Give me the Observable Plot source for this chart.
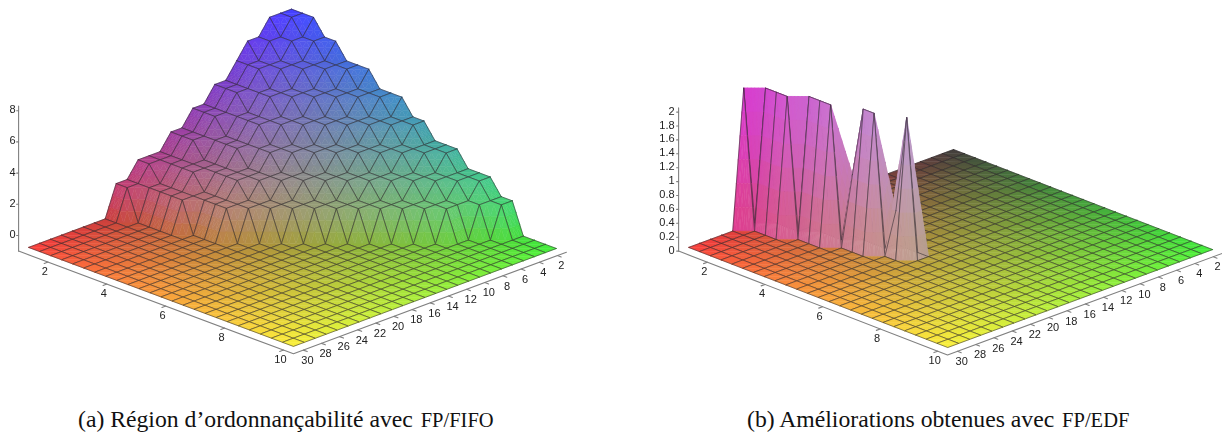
<!DOCTYPE html>
<html><head><meta charset="utf-8">
<script src="https://cdn.jsdelivr.net/npm/d3@7"></script>
<script src="https://cdn.jsdelivr.net/npm/@observablehq/plot@0.6"></script>
<style>
html,body{margin:0;padding:0;background:#fff;width:1222px;height:438px;overflow:hidden}
#row{display:flex;width:1222px;height:438px}
.panel{width:611px;position:relative}
.panel svg{display:block;filter:blur(.4px)}
.cap{position:absolute;top:408px;font:23.7px/1 "Liberation Serif",serif;color:#111;white-space:nowrap}
.cap small{font-size:20.5px;margin-left:2px}
</style></head><body>
<div id="row"></div>
<script>
// grid: 25 x 25 samples over x in [1,10], y in [1,30]
const gridSize = 25;
// Left surface: for each terrace level, the last grid row (y index) still at that level, per x index
const leftFloor = -1;
const reach1 = [16,16,15,15,15,15,14,14,14,13,12,11,10,9,8,7,6,5,4,2,1,-1,-1,-1,-1];
const reach2 = [14,14,13,13,13,12,12,12,11,10,9,8,7,6,5,4,3,2,1,-1,-1,-1,-1,-1,-1];
const reach3 = [11,11,11,10,10,10,9,9,8,7,6,5,4,3,2,1,-1,-1,-1,-1,-1,-1,-1,-1,-1];
const reach4 = [9,9,9,8,8,8,7,6,5,4,3,2,1,-1,-1,-1,-1,-1,-1,-1,-1,-1,-1,-1,-1];
const reach5 = [7,7,7,6,6,5,4,3,2,1,0,-1,-1,-1,-1,-1,-1,-1,-1,-1,-1,-1,-1,-1,-1];
const reach6 = [5,5,5,4,3,2,1,0,-1,-1,-1,-1,-1,-1,-1,-1,-1,-1,-1,-1,-1,-1,-1,-1,-1];
const reach7 = [4,3,2,1,0,-1,-1,-1,-1,-1,-1,-1,-1,-1,-1,-1,-1,-1,-1,-1,-1,-1,-1,-1,-1];
const reach8 = [2,1,0,-1,-1,-1,-1,-1,-1,-1,-1,-1,-1,-1,-1,-1,-1,-1,-1,-1,-1,-1,-1,-1,-1];
const reaches = [reach1,reach2,reach3,reach4,reach5,reach6,reach7,reach8];
// Right surface: the raised samples
const gainXIndex = [0,1,2,3,4,5,6,7,8,9,10,11];
const gainYIndex = [19,18,18,18,17,17,17,16,16,16,15,15];
const gainValue  = [2,2,2,2,2,2,2,1,2,2,0.6,2];
// tick labels
const xTicks = [2,4,6,8,10];
const yTicks = [2,4,6,8,10,12,14,16,18,20,22,24,26,28,30];
const zTicksLeft = [0,2,4,6,8];
const zTicksRight = [0,0.2,0.4,0.6,0.8,1,1.2,1.4,1.6,1.8,2];

const leftZ = (i,j)=>{let z=leftFloor;reaches.forEach((r,k)=>{if(r[i]>=j)z=k+1});return z};
const rightZ = (i,j)=>{const k=gainXIndex.findIndex((v,n)=>v===i&&gainYIndex[n]===j);return k<0?0:gainValue[k]};

function panel(o){
  const P=(i,j,z)=>[o.b[0]+i*o.ix+j*o.jx, o.b[1]+i*o.iy+j*o.jy-(z-o.zBase)*o.zs];
  const g=t=>Math.pow(Math.max(0,t),0.85);
  const col=(i,j,z)=>[65+185*g(j/24),60+180*g(i/24),60+o.bSpan*Math.pow(Math.max(0,(z-o.zMin)/(o.zMax-o.zMin)),o.bPow)];
  const rows=[];let id=0;
  const cells=[];
  for(let i=0;i<gridSize-1;i++)for(let j=0;j<gridSize-1;j++)cells.push([i,j]);
  cells.sort((a,b)=>(a[0]+a[1])-(b[0]+b[1]));
  const V=p=>[p[0],p[1],o.f(p[0],p[1])];
  const pushV=(pts,fc,sc,sw)=>{id++;for(const p of pts){const q=P(p[0],p[1],p[2]);rows.push({px:q[0],py:q[1],id,fc,sc,sw})}};
  const flat=(pts,zLow)=>{const c=[0,0,0];pts.forEach(p=>{const k=col(p[0],p[1],Math.max(p[2],zLow));c[0]+=k[0]/3;c[1]+=k[1]/3;c[2]+=k[2]/3});
    const s=`rgb(${Math.round(c[0])},${Math.round(c[1])},${Math.round(c[2])})`;pushV([...pts,pts[0]],s,s,0.5)};
  const tri=(grid)=>{const [a,b,c]=grid.map(V);
    const level=(a[2]===b[2]&&b[2]===c[2]);
    const n=level?1:o.sub, zLow=level?o.zMin:o.raisedLow;
    const at=(u,v)=>a.map((_,k)=>a[k]+(b[k]-a[k])*u/n+(c[k]-a[k])*v/n);
    for(let u=0;u<n;u++)for(let v=0;v<n-u;v++){
      flat([at(u,v),at(u+1,v),at(u,v+1)],zLow);
      if(u+v<n-1)flat([at(u+1,v),at(u+1,v+1),at(u,v+1)],zLow);
    }};
  for(const [i,j] of cells){
    tri([[i,j],[i+1,j],[i,j+1]]);
    tri([[i+1,j],[i+1,j+1],[i,j+1]]);
    pushV([[i,j],[i+1,j],[i+1,j+1],[i,j+1],[i,j]].map(V),"none","rgba(45,40,45,0.75)",0.75);
  }
  const edge=24.9, axis=[[0,edge,o.zMin],[edge,edge,o.zMin],[edge,0,o.zMin]];
  const axisRows=[];
  const addLine=(pts,k)=>pts.forEach(p=>{const q=P(p[0],p[1],p[2]);axisRows.push({px:q[0],py:q[1],k})});
  addLine(axis,"a");
  addLine([[0,edge,o.zMin],[0,edge,o.zTop]],"z");
  const xI=v=>(v-1)*24/9, yJ=v=>(v-1)*24/29;
  xTicks.forEach(v=>addLine([[xI(v),edge,o.zMin],[xI(v),edge+.35,o.zMin]],"x"+v));
  yTicks.forEach(v=>addLine([[edge,yJ(v),o.zMin],[edge+.35,yJ(v),o.zMin]],"y"+v));
  o.zTicks.forEach(v=>{const q=P(0,edge,v);axisRows.push({px:q[0],py:q[1],k:"t"+v},{px:q[0]-2,py:q[1],k:"t"+v})});
  const lab=(arr,fn)=>arr.map(v=>{const q=fn(v);return {px:q[0],py:q[1],t:String(v)}});
  const xLab=lab(xTicks,v=>P(xI(v),24,o.zMin));
  const yLab=lab(yTicks,v=>P(24,yJ(v),o.zMin));
  const zLab=lab(o.zTicks,v=>P(0,edge,v));
  const font={fontFamily:"Liberation Sans",fontSize:11,fill:"#222",fontWeight:400};
  return Plot.plot({
    width:611,height:395,margin:0,
    x:{domain:o.xd,range:[0,611],axis:null},
    y:{domain:[0,395],range:[0,395],axis:null},
    color:{type:"identity"},
    marks:[
      Plot.line(axisRows,{x:"px",y:"py",z:"k",stroke:"#808080",strokeWidth:1.1}),
      Plot.line(rows,{x:"px",y:"py",z:"id",fill:d=>d.fc,stroke:d=>d.sc,strokeWidth:d=>d.sw,strokeLinejoin:"round"}),
      Plot.text(xLab,{x:"px",y:"py",text:"t",dx:-13,dy:13,...font}),
      Plot.text(yLab,{x:"px",y:"py",text:"t",dx:14,dy:14,...font}),
      Plot.text(zLab,{x:"px",y:"py",text:"t",dx:o.zDx,dy:o.zDy,textAnchor:"end",...font,letterSpacing:o.ls})
    ]
  });
}
const left=panel({b:[291,149],ix:11.04,iy:4.125,jx:-10.96,jy:4.08,zs:15.6,zBase:-1,zMin:-1,zMax:8,zTop:8.3,f:leftZ,sub:3,raisedLow:-1,bSpan:195,bPow:0.8,xd:[0,611],zTicks:zTicksLeft,zDx:-3,zDy:-1,ls:"0"});
const right=panel({b:[953,149],ix:10.8,iy:4.17,jx:-11.04,jy:4.08,zs:69.5,zBase:0,zMin:0,zMax:2,zTop:2.06,f:rightZ,sub:6,raisedLow:0.4,bSpan:150,bPow:0.35,xd:[611,1222],zTicks:zTicksRight,zDx:-4,zDy:-1,ls:"0.8px"});
const row=document.getElementById("row");
const mk=(svg,capHtml,x)=>{const d=document.createElement("div");d.className="panel";d.appendChild(svg);
  const c=document.createElement("div");c.className="cap";c.style.left=x+"px";c.innerHTML=capHtml;d.appendChild(c);row.appendChild(d)};
mk(left,"(a) Région d’ordonnançabilité avec <small>FP/FIFO</small>",78);
mk(right,"(b) Améliorations obtenues avec <small>FP/EDF</small>",136);
</script>
</body></html>
